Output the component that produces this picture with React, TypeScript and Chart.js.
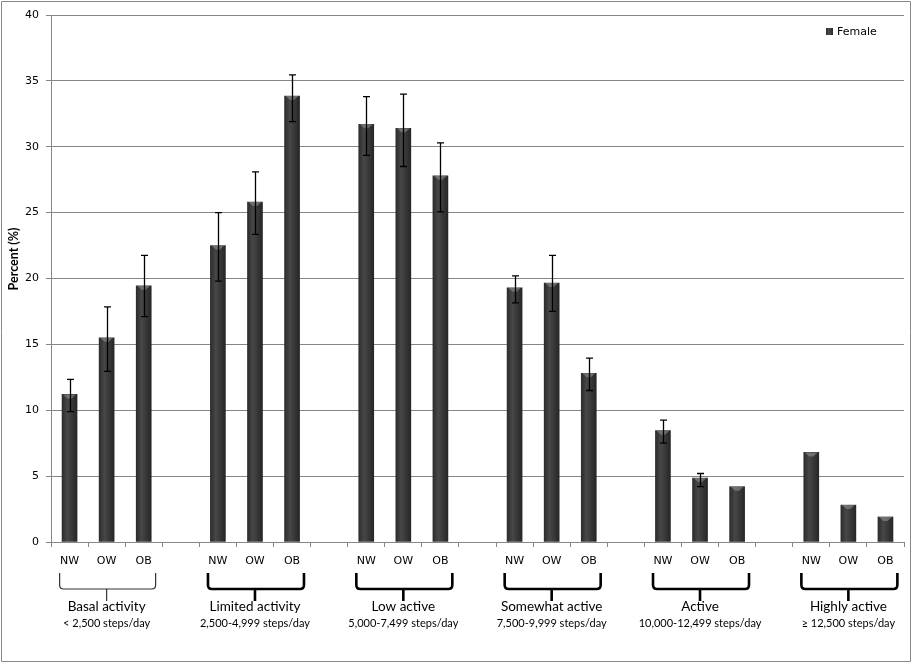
import React, { useEffect, useRef } from 'react';
import { Chart, registerables } from 'chart.js';

Chart.register(...registerables);

// ---- data ----
const weightClasses = ['NW', 'OW', 'OB'];
const activityGroups = ['Basal activity', 'Limited activity', 'Low active', 'Somewhat active', 'Active', 'Highly active'];
const stepRanges = ['< 2,500 steps/day', '2,500-4,999 steps/day', '5,000-7,499 steps/day', '7,500-9,999 steps/day', '10,000-12,499 steps/day', '\u2265 12,500 steps/day'];
const seriesName = 'Female';
// percent, in group order NW, OW, OB
const femalePercent = [11.2, 15.5, 19.45, 22.5, 25.8, 33.85, 31.7, 31.4, 27.8, 19.3, 19.65, 12.8, 8.45, 4.85, 4.2, 6.8, 2.8, 1.9];
const errorLow = [9.9, 12.95, 17.1, 19.8, 23.35, 31.9, 29.35, 28.5, 25.05, 18.15, 17.5, 11.5, 7.5, 4.2, null, null, null, null];
const errorHigh = [12.35, 17.85, 21.75, 25.0, 28.1, 35.45, 33.8, 34.0, 30.3, 20.2, 21.75, 13.95, 9.25, 5.2, null, null, null, null];
const yTicks = { min: 0, max: 40, step: 5 };

// slots: 3 bars per group + 1 empty gap slot between groups
const slotLabels: string[] = [];
const slotValues: (number | null)[] = [];
const slotIndex: number[] = []; // slot -> data index or -1
activityGroups.forEach((_, g) => {
  weightClasses.forEach((w, k) => {
    slotLabels.push(w);
    slotValues.push(femalePercent[g * 3 + k]);
    slotIndex.push(g * 3 + k);
  });
  if (g < activityGroups.length - 1) {
    slotLabels.push('');
    slotValues.push(null);
    slotIndex.push(-1);
  }
});

const GRID = '#868686';
const VERDANA = '"DejaVu Sans", Verdana, sans-serif';
const CALIBRI = 'Lato, "Open Sans", sans-serif';

const overlayPlugin = {
  id: 'overlay',
  afterDatasetsDraw(chart: any) {
    const { ctx } = chart;
    const xs = chart.scales.x;
    const ys = chart.scales.y;
    // bevel at top of bars
    const meta = chart.getDatasetMeta(0);
    ctx.save();
    meta.data.forEach((bar: any, i: number) => {
      const v = slotValues[i];
      if (v == null) return;
      const half = bar.width / 2;
      ctx.fillStyle = 'rgba(150,150,150,0.55)';
      ctx.beginPath();
      ctx.moveTo(bar.x - half + 1, bar.y);
      ctx.lineTo(bar.x + half - 1, bar.y);
      ctx.lineTo(bar.x + 2, bar.y + 4);
      ctx.lineTo(bar.x - 2, bar.y + 4);
      ctx.closePath();
      ctx.fill();
    });
    // error bars
    ctx.strokeStyle = '#000';
    ctx.lineWidth = 1.3;
    slotIndex.forEach((di, s) => {
      if (di < 0) return;
      const lo = errorLow[di];
      const hi = errorHigh[di];
      if (lo == null || hi == null) return;
      const px = Math.round(xs.getPixelForValue(s)) + 0.5;
      const yh = ys.getPixelForValue(hi);
      const yl = ys.getPixelForValue(lo);
      ctx.beginPath();
      ctx.moveTo(px, yh);
      ctx.lineTo(px, yl);
      ctx.moveTo(px - 3.5, yh);
      ctx.lineTo(px + 3.5, yh);
      ctx.moveTo(px - 3.5, yl);
      ctx.lineTo(px + 3.5, yl);
      ctx.stroke();
    });
    ctx.restore();
  },
  afterDraw(chart: any) {
    const { ctx } = chart;
    const xs = chart.scales.x;
    const area = chart.chartArea;
    ctx.save();
    // brackets and group labels
    activityGroups.forEach((name, g) => {
      const c = xs.getPixelForValue(g * 4 + 1);
      const L = c - 47;
      const R = c + 49;
      const yTop = area.bottom + 31;
      const yH = area.bottom + 47;
      ctx.strokeStyle = g === 0 ? '#333' : '#000';
      ctx.lineWidth = g === 0 ? 1.2 : 2.6;
      ctx.lineJoin = 'round';
      ctx.beginPath();
      ctx.moveTo(L, yTop);
      ctx.lineTo(L, yH - 4);
      ctx.quadraticCurveTo(L, yH, L + 4, yH);
      ctx.lineTo(R - 4, yH);
      ctx.quadraticCurveTo(R, yH, R, yH - 4);
      ctx.lineTo(R, yTop);
      ctx.moveTo(c, yH);
      ctx.lineTo(c, yH + 12);
      ctx.stroke();

      ctx.fillStyle = '#000';
      ctx.textAlign = 'center';
      ctx.textBaseline = 'middle';
      ctx.font = `13.5px ${CALIBRI}`;
      ctx.fillText(name, c, area.bottom + 65);
      ctx.font = `11px ${CALIBRI}`;
      ctx.fillText(stepRanges[g], c, area.bottom + 81);
    });
    // legend
    const lx = 826, ly = 28;
    const lg = ctx.createLinearGradient(lx, 0, lx + 7, 0);
    lg.addColorStop(0, '#2e2e2e');
    lg.addColorStop(0.4, '#4a4a4a');
    lg.addColorStop(1, '#2a2a2a');
    ctx.fillStyle = lg;
    ctx.fillRect(lx, ly, 7, 7);
    ctx.fillStyle = '#000';
    ctx.font = `11px ${VERDANA}`;
    ctx.textAlign = 'left';
    ctx.textBaseline = 'middle';
    ctx.fillText(seriesName, 837, 32);
    // y title
    ctx.save();
    ctx.translate(14, 259);
    ctx.rotate(-Math.PI / 2);
    ctx.font = `bold 12.5px ${CALIBRI}`;
    ctx.textAlign = 'center';
    ctx.textBaseline = 'middle';
    ctx.fillText('Percent (%)', 0, 0);
    ctx.restore();
    // outer frame
    ctx.strokeStyle = '#888';
    ctx.lineWidth = 1;
    ctx.strokeRect(1.5, 1.5, 909, 660);
    ctx.restore();
  },
};

export default function App() {
  const ref = useRef<HTMLCanvasElement>(null);
  useEffect(() => {
    if (!ref.current) return;
    const chart = new Chart(ref.current, {
      type: 'bar',
      data: {
        labels: slotLabels,
        datasets: [
          {
            label: seriesName,
            data: slotValues,
            barThickness: 15,
            backgroundColor: (c: any) => {
              const ch = c.chart;
              const xs = ch.scales && ch.scales.x;
              if (!xs || c.dataIndex == null) return '#3a3a3a';
              const px = xs.getPixelForValue(c.dataIndex);
              if (!Number.isFinite(px)) return '#3a3a3a';
              const g = ch.ctx.createLinearGradient(px - 7.5, 0, px + 7.5, 0);
              g.addColorStop(0, '#2c2c2c');
              g.addColorStop(0.35, '#474747');
              g.addColorStop(0.7, '#363636');
              g.addColorStop(1, '#262626');
              return g;
            },
            borderWidth: 0,
          },
        ],
      },
      options: {
        animation: false,
        responsive: false,
        maintainAspectRatio: false,
        devicePixelRatio: 1,
        layout: { padding: { top: 15, right: 9, left: 0, bottom: 0 } },
        plugins: { legend: { display: false }, tooltip: { enabled: false } },
        scales: {
          x: {
            afterFit: (s: any) => { s.height = 122; },
            grid: { offset: true, drawOnChartArea: false, drawTicks: true, tickLength: 5, color: GRID },
            border: { display: true, color: GRID },
            ticks: { autoSkip: false, maxRotation: 0, padding: 8, color: '#000', font: { family: VERDANA, size: 11 } },
          },
          y: {
            min: yTicks.min,
            max: yTicks.max,
            afterFit: (s: any) => { s.width = 51; },
            grid: { color: GRID, tickLength: 5, drawTicks: true },
            border: { display: true, color: GRID },
            ticks: { stepSize: yTicks.step, padding: 7, color: '#000', font: { family: VERDANA, size: 11 } },
          },
        },
      },
      plugins: [overlayPlugin],
    } as any);
    return () => chart.destroy();
  }, []);
  return (
    <div style={{ position: 'absolute', left: 0, top: 0, width: 913, height: 664, background: '#fff' }}>
      <canvas ref={ref} width={913} height={664} style={{ display: 'block', width: 913, height: 664 }} />
    </div>
  );
}
